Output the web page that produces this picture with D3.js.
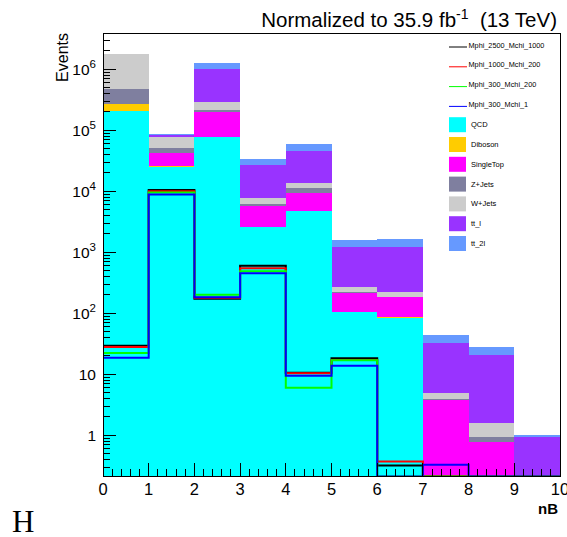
<!DOCTYPE html>
<html>
<head>
<meta charset="utf-8">
<script src="https://cdn.jsdelivr.net/npm/d3@7"></script>
<style>
  html, body { margin: 0; padding: 0; background: #fff; }
  svg { display: block; font-family: "Liberation Sans", Arial, Helvetica, sans-serif; }
</style>
</head>
<body>
<svg id="chart" width="567" height="537"></svg>
<script>
// nB bins (0..10, unit width)
const binEdges = [0, 1, 2, 3, 4, 5, 6, 7, 8, 9, 10];
const xTickLabels = ["0", "1", "2", "3", "4", "5", "6", "7", "8", "9", "10"];

// Background processes, stacked bottom to top
const bkgNames = ["QCD", "Diboson", "SingleTop", "Z+Jets", "W+Jets", "tt_l", "tt_2l"];
const bkgColors = ["#00ffff", "#ffcc00", "#ff00ff", "#7f7f9f", "#cccccc", "#9933ff", "#6699ff"];
const qcd       = [2.07e5, 2.53e4, 7.7e4, 2600, 4750, 106, 84.7, 0, 0, 0];
const diboson   = [6.3e4, 300, 2000, 30, 50, 1, 1, 0, 0, 0];
const singleTop = [0, 1.64e4, 1.21e5, 3170, 4500, 111, 97, 3.8, 0.79, 0];
const zJets     = [2.1e5, 1.0e4, 1.8e4, 300, 1900, 8, 4, 0.15, 0.14, 0];
const wJets     = [1.28e6, 2.6e4, 7.2e4, 1700, 2300, 44, 39, 0.95, 0.64, 0];
const ttl       = [500, 7000, 7.2e5, 1.92e4, 3.25e4, 966, 982, 27.3, 19.1, 0.95];
const tt2l      = [100, 500, 2.4e5, 7000, 1.36e4, 354, 442, 12.4, 7.6, 0.05];

// Signal samples (drawn as lines)
const sigNames = ["Mphi_2500_Mchi_1000", "Mphi_1000_Mchi_200", "Mphi_300_Mchi_200", "Mphi_300_Mchi_1"];
const sigColors = ["#000000", "#ff0000", "#00ff00", "#0000ff"];
const sig2500_1000 = [29.4, 1.05e4, 173, 603, 10.6, 18.3, 0.32, 0, 0, 0];
const sig1000_200  = [28, 1.0e4, 180, 547, 10.4, 17.1, 0.37, 0, 0, 0];
const sig300_200   = [22.3, 9.6e3, 202, 489, 6.0, 17, 0, 0, 0, 0];
const sig300_1     = [18.7, 8.9e3, 183, 453, 9.5, 13.8, 0, 0.33, 0, 0];

const yMajorTicks = [1, 10, 1e2, 1e3, 1e4, 1e5, 1e6];

const bkgSeries = [qcd, diboson, singleTop, zJets, wJets, ttl, tt2l];
const sigSeries = [sig2500_1000, sig1000_200, sig300_200, sig300_1];

const svg = d3.select("#chart");
const frame = { left: 103, right: 560, top: 33, bottom: 476 };

const x = d3.scaleLinear().domain([0, 10]).range([frame.left, frame.right]);
const y = d3.scaleLog().domain([0.215, 3.94e6]).range([frame.bottom, frame.top]).clamp(true);

svg.append("defs").append("clipPath").attr("id", "plotClip")
  .append("rect")
  .attr("x", frame.left).attr("y", frame.top)
  .attr("width", frame.right - frame.left).attr("height", frame.bottom - frame.top);

const plot = svg.append("g").attr("clip-path", "url(#plotClip)");

// Cumulative stack: each layer drawn from the previous cumulative sum
const nBins = binEdges.length - 1;
const cum = [];
let running = new Array(nBins).fill(0);
bkgSeries.forEach((s, i) => {
  const lo = running.slice();
  running = running.map((v, b) => v + s[b]);
  cum.push({ lo, hi: running.slice(), color: bkgColors[i] });
});

const yMin = y.domain()[0];
cum.forEach(layer => {
  for (let b = 0; b < nBins; b++) {
    const hi = layer.hi[b], lo = layer.lo[b];
    if (hi <= yMin || hi <= lo) continue;
    const yTop = y(hi);
    const yBot = lo > yMin ? y(lo) : frame.bottom;
    plot.append("rect")
      .attr("x", x(binEdges[b]))
      .attr("y", yTop)
      .attr("width", x(binEdges[b + 1]) - x(binEdges[b]))
      .attr("height", Math.max(0, yBot - yTop))
      .attr("fill", layer.color)
      .attr("shape-rendering", "crispEdges");
  }
});

// Signal step lines
sigSeries.forEach((s, i) => {
  const pts = [];
  for (let b = 0; b < nBins; b++) {
    const v = s[b] > yMin ? y(s[b]) : frame.bottom + 0.5;
    pts.push([x(binEdges[b]), v], [x(binEdges[b + 1]), v]);
  }
  plot.append("path")
    .attr("d", d3.line()(pts))
    .attr("fill", "none")
    .attr("stroke", sigColors[i])
    .attr("stroke-width", 2);
});

// Frame
svg.append("rect")
  .attr("x", frame.left).attr("y", frame.top)
  .attr("width", frame.right - frame.left).attr("height", frame.bottom - frame.top)
  .attr("fill", "none").attr("stroke", "#000").attr("stroke-width", 1)
  .attr("shape-rendering", "crispEdges");

// X axis ticks (pointing up into the frame)
const xAxis = svg.append("g");
for (let b = 0; b <= 10; b++) {
  xAxis.append("line")
    .attr("x1", x(b)).attr("x2", x(b))
    .attr("y1", frame.bottom).attr("y2", frame.bottom - 13)
    .attr("stroke", "#000").attr("shape-rendering", "crispEdges");
  if (b < 10) {
    for (let m = 1; m < 5; m++) {
      const xm = x(b + m / 5);
      xAxis.append("line")
        .attr("x1", xm).attr("x2", xm)
        .attr("y1", frame.bottom).attr("y2", frame.bottom - 7)
        .attr("stroke", "#000").attr("shape-rendering", "crispEdges");
    }
  }
  xAxis.append("text")
    .attr("x", x(b)).attr("y", 495)
    .attr("text-anchor", "middle")
    .attr("font-size", 16.5)
    .text(xTickLabels[b]);
}
svg.append("text")
  .attr("x", 558).attr("y", 514)
  .attr("text-anchor", "end")
  .attr("font-size", 15).attr("font-weight", "bold")
  .text("nB");

// Y axis ticks (log scale)
const yAxis = svg.append("g");
const [d0, d1] = y.domain();
for (let e = -1; e <= 6; e++) {
  for (let k = 1; k <= 9; k++) {
    const v = k * Math.pow(10, e);
    if (v < d0 || v > d1) continue;
    const yy = y(v);
    yAxis.append("line")
      .attr("x1", frame.left).attr("x2", frame.left + (k === 1 ? 13 : 7))
      .attr("y1", yy).attr("y2", yy)
      .attr("stroke", "#000").attr("shape-rendering", "crispEdges");
  }
}
yMajorTicks.forEach(v => {
  const e = Math.round(Math.log10(v));
  const t = yAxis.append("text")
    .attr("x", 96).attr("y", y(v) + 5.5)
    .attr("text-anchor", "end")
    .attr("font-size", 15.5);
  if (e <= 1) {
    t.text(String(v));
  } else {
    t.append("tspan").text("10");
    t.append("tspan").attr("dy", -7).attr("font-size", 11.5).text(String(e));
  }
});
svg.append("text")
  .attr("transform", `translate(68,${frame.top}) rotate(-90)`)
  .attr("text-anchor", "end")
  .attr("font-size", 16)
  .text("Events");

// Title
const title = svg.append("text")
  .attr("x", 557).attr("y", 26.5)
  .attr("text-anchor", "end")
  .attr("font-size", 20.5);
title.append("tspan").text("Normalized to 35.9 fb");
title.append("tspan").attr("dy", -8).attr("font-size", 14).text("-1");
title.append("tspan").attr("dy", 8).attr("xml:space", "preserve").text("\u00a0 (13 TeV)");

// Legend
const legend = svg.append("g");
const legY0 = 45, legStep = 19.8;
sigNames.forEach((name, i) => {
  const yy = legY0 + i * legStep;
  legend.append("line")
    .attr("x1", 449).attr("x2", 467)
    .attr("y1", yy + 2).attr("y2", yy + 2)
    .attr("stroke", sigColors[i]).attr("stroke-width", 1);
  legend.append("text")
    .attr("x", 468.5).attr("y", yy + 2.5)
    .attr("font-size", 7.3)
    .text(name);
});
bkgNames.forEach((name, i) => {
  const yy = legY0 + (sigNames.length + i) * legStep;
  legend.append("rect")
    .attr("x", 449).attr("y", yy - 7)
    .attr("width", 17).attr("height", 15)
    .attr("fill", bkgColors[i]);
  legend.append("text")
    .attr("x", 471).attr("y", yy + 3)
    .attr("font-size", 7.5)
    .text(name);
});

// Canvas label
svg.append("text")
  .attr("x", 12).attr("y", 531.5)
  .attr("font-family", "'Liberation Serif', 'Times New Roman', serif")
  .attr("font-size", 31)
  .text("H");
</script>
</body>
</html>
